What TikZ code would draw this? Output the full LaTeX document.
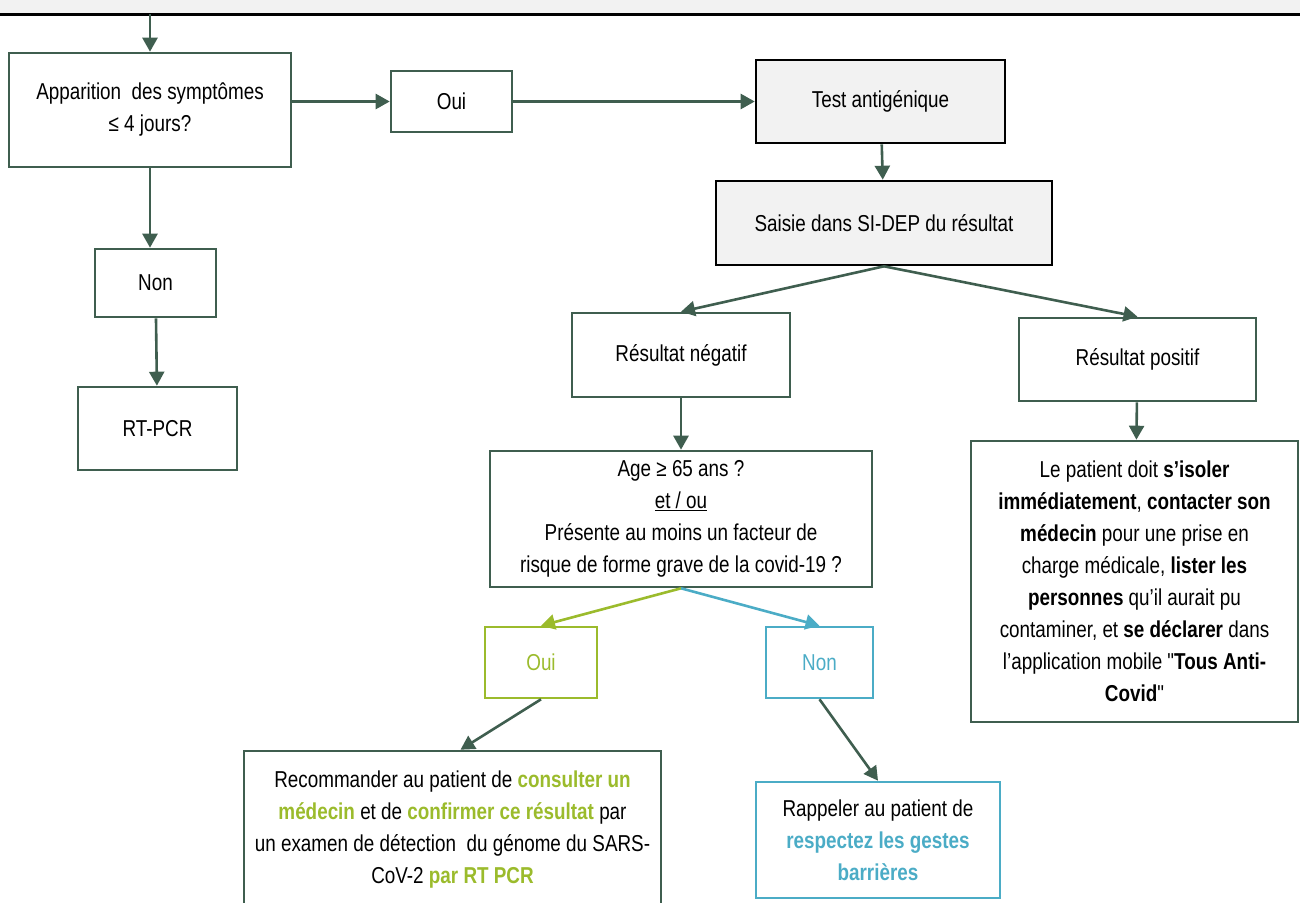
\documentclass[tikz,border=0pt]{standalone}
\usepackage{fontspec}
\setmainfont{Liberation Sans}[FakeStretch=0.82,Ligatures=TeXOff]
\usepackage{xcolor}
\usetikzlibrary{arrows.meta}
\definecolor{flowgreen}{HTML}{3F5E4F}
\definecolor{ouigreen}{HTML}{9BBB2C}
\definecolor{noncyan}{HTML}{4BACC6}
\definecolor{panelgray}{HTML}{F2F2F2}
\newcommand{\gbold}[1]{\textbf{\color{ouigreen}#1}}
\newcommand{\cbold}[1]{\textbf{\color{noncyan}#1}}

\begin{document}
\begin{tikzpicture}[x=1pt,y=-1pt,
  font=\fontsize{23}{32}\selectfont,
  box/.style={draw=flowgreen,line width=2.6pt,align=center,inner sep=2pt},
  greybox/.style={draw=black,fill=panelgray,line width=2.6pt,align=center},
  arr/.style={flowgreen,line width=2.6pt,-{Triangle[length=14pt,width=15pt]}}]
\path[use as bounding box,clip] (0,0) rectangle (1300,902);
\fill[panelgray] (0,0) rectangle (1300,14);
\draw[line width=3pt] (0,14) -- (1300,14);
\coordinate (start) at (150,14);
\node[box,minimum width=282pt,minimum height=114pt](sympt) at (150,110){Apparition~ des symptômes\\≤ 4 jours?};
\node[box,minimum width=121pt,minimum height=61pt](oui) at (451.5,101.5){Oui};
\node[greybox,minimum width=249pt,minimum height=83pt](test) at (880.5,101.5){Test antigénique};
\node[greybox,minimum width=336pt,minimum height=84pt](saisie) at (884,223){Saisie dans SI-DEP du résultat};
\node[box,minimum width=121pt,minimum height=68pt](non) at (155.5,283){Non};
\node[box,minimum width=159pt,minimum height=83pt](rtpcr) at (157.5,428.5){RT-PCR};
\node[box,minimum width=218pt,minimum height=84pt](neg) at (681,355){Résultat négatif};
\node[box,minimum width=237pt,minimum height=83pt](pos) at (1137.5,359.5){Résultat positif};
\node[box,minimum width=382pt,minimum height=136pt](age) at (681,519){Age ≥ 65 ans ?\\\underline{et / ou}\\Présente au moins un facteur de\\risque de forme grave de la covid-19 ?};
\node[box,minimum width=327pt,minimum height=281pt](isol) at (1134.5,581.5){Le patient doit \textbf{s’isoler}\\\textbf{immédiatement}, \textbf{contacter son}\\\textbf{médecin} pour une prise en\\charge médicale, \textbf{lister les}\\\textbf{personnes} qu’il aurait pu\\contaminer, et \textbf{se déclarer} dans\\l’application mobile "\textbf{Tous Anti-}\\\textbf{Covid}"};
\node[box,draw=ouigreen,text=ouigreen,minimum width=112pt,minimum height=71pt](oui2) at (541,662.5){Oui};
\node[box,draw=noncyan,text=noncyan,minimum width=107pt,minimum height=71pt](non2) at (819.5,662.5){Non};
\node[box,minimum width=417pt,minimum height=158pt](reco) at (452.5,830){Recommander au patient de \gbold{consulter un}\\\gbold{médecin} et de \gbold{confirmer ce résultat} par\\un examen de détection~ du génome du SARS-\\CoV-2 \gbold{par RT PCR}};
\node[box,draw=noncyan,minimum width=244pt,minimum height=116pt](rappel) at (878,840){Rappeler au patient de\\\cbold{respectez les gestes}\\\cbold{barrières}};
\draw[arr] (start) -- (sympt);
\draw[arr] (sympt.east |- oui.west) -- (oui.west);
\draw[arr] (oui) -- (test);
\draw[arr] (test) -- (saisie);
\draw[arr] (saisie.south) -- (neg.north);
\draw[arr] (saisie.south) -- (pos.north);
\draw[arr] (neg) -- (age);
\draw[arr] (pos) -- (isol);
\draw[arr,ouigreen] (age.south) -- (oui2.north);
\draw[arr,noncyan] (age.south) -- (non2.north);
\draw[arr] (oui2.south) -- ([xshift=8pt]reco.north);
\draw[arr] (non2.south) -- (rappel.north);
\draw[arr] (sympt.south) -- (sympt.south |- non.north);
\draw[arr] (non) -- (rtpcr);
\end{tikzpicture}
\end{document}
